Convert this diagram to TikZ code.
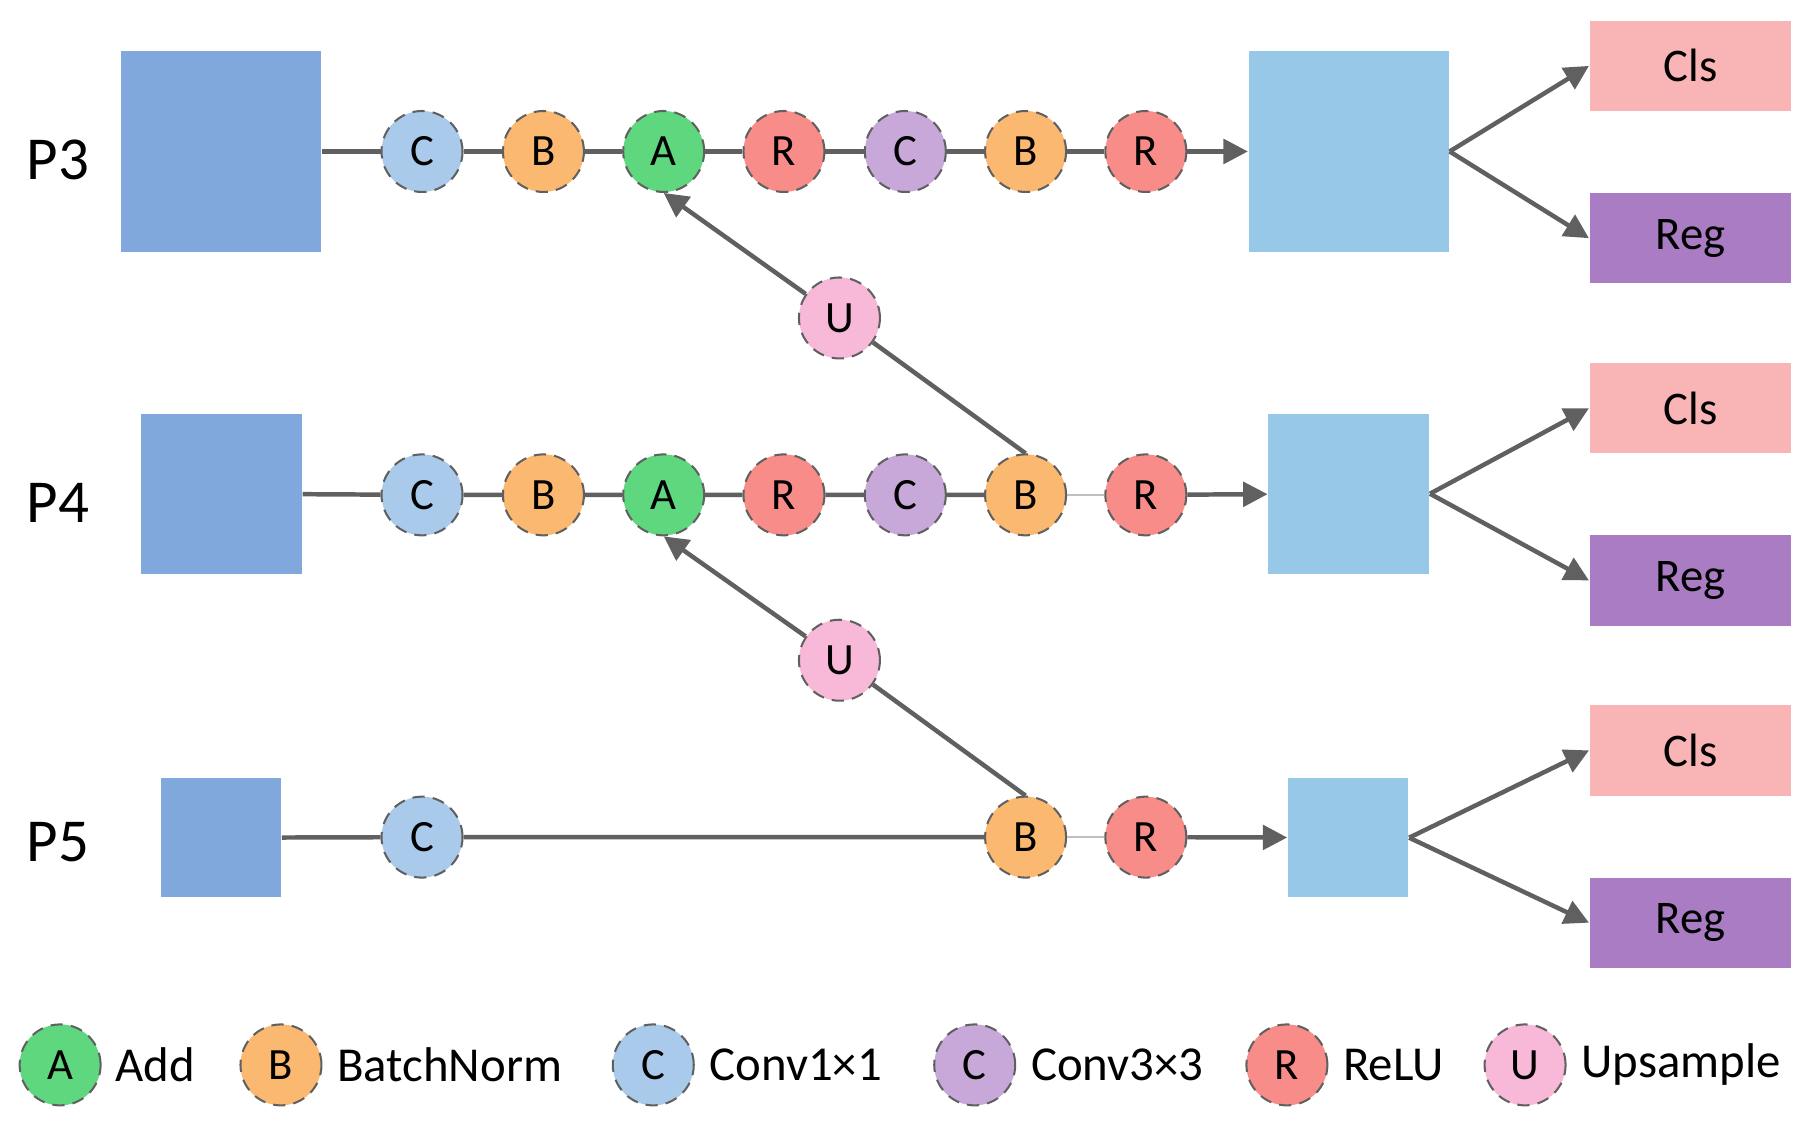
\documentclass[tikz,border=0pt]{standalone}
\usepackage{fontspec}
\setmainfont{Carlito}
\usetikzlibrary{arrows.meta}
\definecolor{bigb}{HTML}{80A8DC}
\definecolor{outb}{HTML}{98C8E8}
\definecolor{clsc}{HTML}{F9B5B5}
\definecolor{regc}{HTML}{A97CC4}
\definecolor{cA}{HTML}{5ED77E}
\definecolor{cB}{HTML}{FBB870}
\definecolor{cC}{HTML}{A9CAEA}
\definecolor{cK}{HTML}{C8A8D8}
\definecolor{cR}{HTML}{F88C88}
\definecolor{cU}{HTML}{F8B8D8}
\definecolor{ln}{HTML}{606060}
\begin{document}
\begin{tikzpicture}[x=0.01cm,y=-0.01cm,
 op/.style={circle,draw=ln,densely dashed,line width=0.5pt,minimum size=0.70cm,inner sep=0pt,font=\fontsize{11}{11}\selectfont},
 box/.style={inner sep=0pt,draw=none},
 hd/.style={inner sep=0pt,minimum width=1.74cm,minimum height=0.78cm,font=\fontsize{11.5}{11.5}\selectfont},
 lab/.style={font=\fontsize{15}{15}\selectfont},
 leg/.style={font=\fontsize{12}{12}\selectfont,anchor=west,inner sep=0pt},
 con/.style={ln,line width=1.1pt},
 arr/.style={con,-{Triangle[length=6pt,width=6pt]}}]
\useasboundingbox (0,0) rectangle (1568,985);
% labels
\node[lab] (l3) at (50,138) {P3};
\node[lab] (l4) at (50,435) {P4};
\node[lab] (l5) at (50,728) {P5};
% input boxes
\node[box,fill=bigb,minimum width=1.73cm,minimum height=1.73cm] (i3) at (191.5,131) {};
\node[box,fill=bigb,minimum width=1.39cm,minimum height=1.38cm] (i4) at (191.5,427) {};
\node[box,fill=bigb,minimum width=1.04cm,minimum height=1.03cm] (i5) at (191,724.5) {};
% output boxes
\node[box,fill=outb,minimum width=1.73cm,minimum height=1.73cm] (o3) at (1166.5,131) {};
\node[box,fill=outb,minimum width=1.39cm,minimum height=1.38cm] (o4) at (1166.5,427) {};
\node[box,fill=outb,minimum width=1.04cm,minimum height=1.03cm] (o5) at (1166,724.5) {};
% heads
\node[hd,fill=clsc] (c3) at (1462,57) {Cls};
\node[hd,fill=regc] (r3) at (1462,206) {Reg};
\node[hd,fill=clsc] (c4) at (1462,353) {Cls};
\node[hd,fill=regc] (r4) at (1462,502) {Reg};
\node[hd,fill=clsc] (c5) at (1462,649) {Cls};
\node[hd,fill=regc] (r5) at (1462,798) {Reg};
% row 3
\node[op,fill=cC] (a1) at (365,131) {C};
\node[op,fill=cB] (a2) at (470,131) {B};
\node[op,fill=cA] (a3) at (574,131) {A};
\node[op,fill=cR] (a4) at (678,131) {R};
\node[op,fill=cK] (a5) at (783,131) {C};
\node[op,fill=cB] (a6) at (887,131) {B};
\node[op,fill=cR] (a7) at (991,131) {R};
% row 4
\node[op,fill=cC] (b1) at (365,428) {C};
\node[op,fill=cB] (b2) at (470,428) {B};
\node[op,fill=cA] (b3) at (574,428) {A};
\node[op,fill=cR] (b4) at (678,428) {R};
\node[op,fill=cK] (b5) at (783,428) {C};
\node[op,fill=cB] (b6) at (887,428) {B};
\node[op,fill=cR] (b7) at (991,428) {R};
% row 5
\node[op,fill=cC] (d1) at (365,724) {C};
\node[op,fill=cB] (d6) at (887,724) {B};
\node[op,fill=cR] (d7) at (991,724) {R};
% upsample
\node[op,fill=cU] (u1) at (726,275) {U};
\node[op,fill=cU] (u2) at (726,571) {U};
% connectors
\draw[con] (i3) -- (a1) (a1) -- (a2) (a2) -- (a3) (a3) -- (a4) (a4) -- (a5) (a5) -- (a6) (a6) -- (a7);
\draw[arr] (a7) -- (o3);
\draw[con] (i4) -- (b1) (b1) -- (b2) (b2) -- (b3) (b3) -- (b4) (b4) -- (b5) (b5) -- (b6);
\draw[con,line width=0.5pt,ln!40] (b6) -- (b7);
\draw[arr] (b7) -- (o4);
\draw[con] (i5) -- (d1) (d1) -- (d6);
\draw[con,line width=0.5pt,ln!40] (d6) -- (d7);
\draw[arr] (d7) -- (o5);
\draw[con] (b6.north) -- (u1);
\draw[arr] (u1) -- (a3.south);
\draw[con] (d6.north) -- (u2);
\draw[arr] (u2) -- (b3.south);
\draw[arr] (o3.east) -- (c3.west);
\draw[arr] (o3.east) -- (r3.west);
\draw[arr] (o4.east) -- (c4.west);
\draw[arr] (o4.east) -- (r4.west);
\draw[arr] (o5.east) -- (c5.west);
\draw[arr] (o5.east) -- (r5.west);
% legend
\node[op,fill=cA] (la) at (52,921) {A};
\node[leg] (ta) at (99,921) {Add};
\node[op,fill=cB] (lb) at (243,921) {B};
\node[leg] (tb) at (291,921) {BatchNorm};
\node[op,fill=cC] (lc) at (565,921) {C};
\node[leg] (tc) at (613,921) {Conv1×1};
\node[op,fill=cK] (lk) at (843,921) {C};
\node[leg] (tk) at (891,921) {Conv3×3};
\node[op,fill=cR] (lr) at (1113,921) {R};
\node[leg] (tr) at (1161,921) {ReLU};
\node[op,fill=cU] (lu) at (1319,921) {U};
\node[leg] (tu) at (1367,921) {Upsample};
\end{tikzpicture}
\end{document}
